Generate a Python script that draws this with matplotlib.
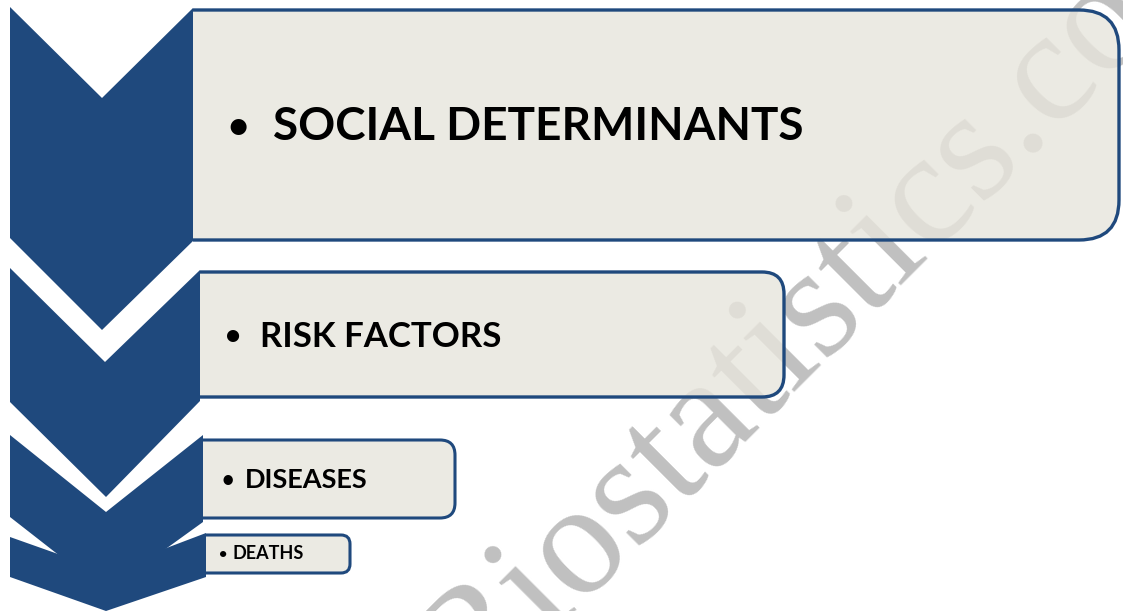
import matplotlib
matplotlib.use("Agg")
import matplotlib.pyplot as plt
from matplotlib.patches import Polygon, FancyBboxPatch, Rectangle

# ---- data ----
labels = ["SOCIAL DETERMINANTS", "RISK FACTORS", "DISEASES", "DEATHS"]
label_sizes = [33, 25, 19.5, 13]
watermark = "Biostatistics.com"

BLUE = "#1f497d"
FILL = (0.906, 0.898, 0.863, 0.8)

W, H = 1123, 611
fig = plt.figure(figsize=(W / 100, H / 100), dpi=100)
ax = fig.add_axes([0, 0, 1, 1])
ax.set_xlim(0, W)
ax.set_ylim(H, 0)
ax.axis("off")

# chevrons (pixel layout)
chevrons = [
    [(10, 7), (102, 98), (193, 8), (193, 241), (102, 330), (10, 238)],
    [(10, 268), (105, 362), (200, 270), (200, 401), (106, 497), (10, 402)],
    [(10, 435), (106, 512), (203, 435), (203, 522), (106, 592), (10, 517)],
    [(10, 537), (106, 571), (206, 533), (206, 577), (106, 611), (10, 577)],
]
for pts in chevrons:
    ax.add_patch(Polygon(pts, closed=True, facecolor=BLUE, edgecolor="none", zorder=3))

# watermark
ax.text(472, 711, watermark, rotation=45, rotation_mode="anchor",
        ha="left", va="baseline", fontsize=115, color="#c0c0c0",
        family="Liberation Serif", zorder=1)

# boxes: (left, top, right, bottom, radius)
boxes = [
    (193, 10, 1119, 240, 40),
    (200, 272, 784, 397, 22),
    (203, 440, 455, 518, 15),
    (206, 535, 350, 573, 9),
]
lws = [2.4, 2.4, 2.2, 2.2]
for (l, t, r, b, rad), lw in zip(boxes, lws):
    p = FancyBboxPatch((l - 60, t), (r - l + 60), (b - t),
                       boxstyle=f"round,pad=0,rounding_size={rad}",
                       facecolor=FILL, edgecolor=BLUE, linewidth=lw, zorder=2)
    ax.add_patch(p)
    clip = Rectangle((l, 0), W, H, transform=ax.transData)
    p.set_clip_path(clip)

# labels: bullet x, text x, baseline y
bullet_x = [238, 233, 228, 223]
text_x = [273, 260, 245, 232]
base_y = [140, 347, 488, 559]
for lab, fs, bx, tx, by in zip(labels, label_sizes, bullet_x, text_x, base_y):
    ax.text(bx, by - fs * 0.06, "\u2022", ha="center", va="baseline", fontsize=fs * 0.8,
            family="Lato", fontweight="bold", color="black", zorder=5)
    ax.text(tx, by, lab, ha="left", va="baseline", fontsize=fs,
            family="Lato", fontweight="bold", color="black", zorder=5)

fig.savefig("out.png", dpi=100)
